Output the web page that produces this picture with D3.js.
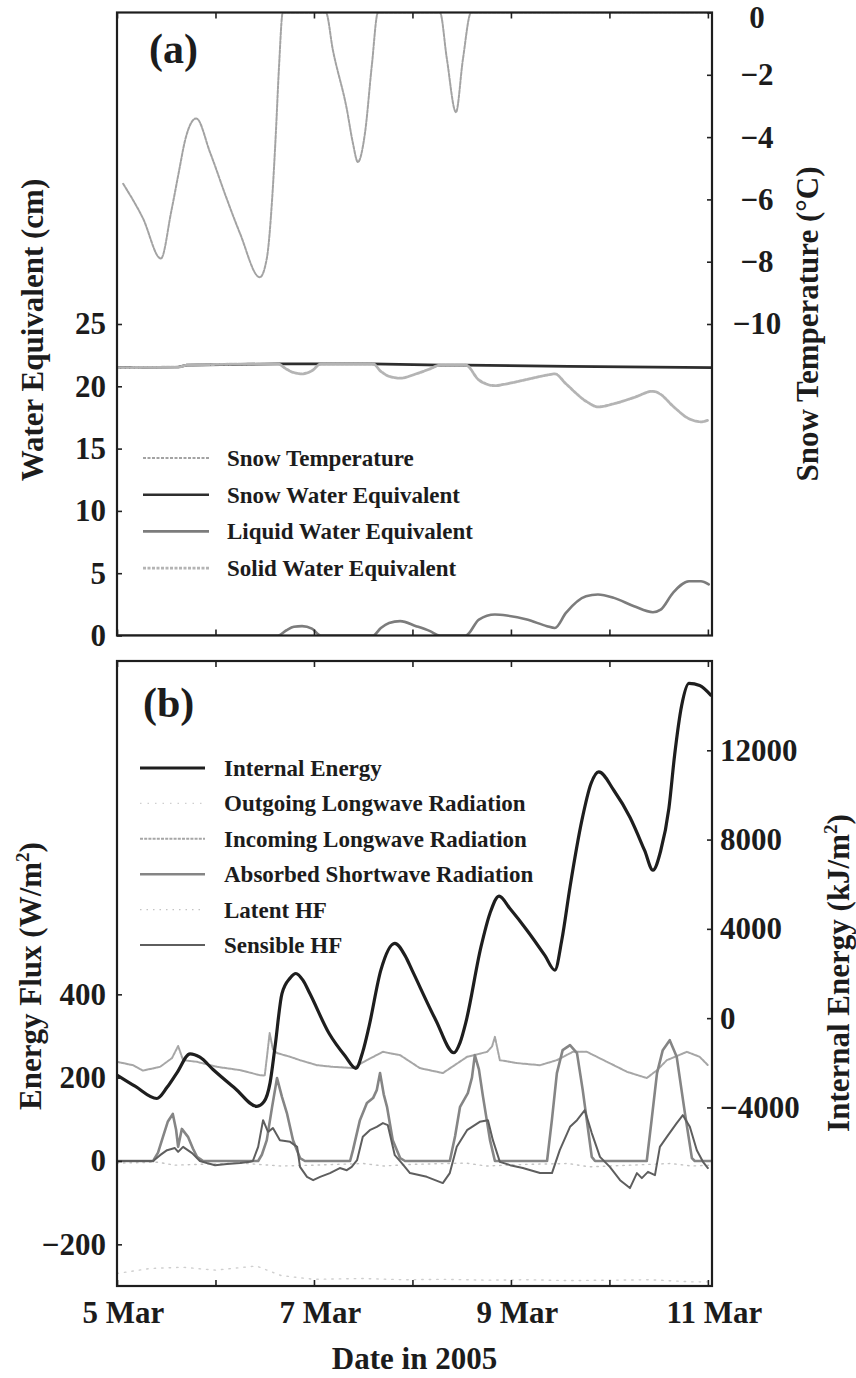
<!DOCTYPE html>
<html><head><meta charset="utf-8">
<script src="https://cdn.jsdelivr.net/npm/d3@7"></script>
<style>
body{margin:0;background:#fff}
text{font-family:"Liberation Serif","Times New Roman",serif;font-weight:bold;fill:#1c1c1c}
</style></head>
<body><svg id="c" width="856" height="1378"></svg>
<script>
// ---------------- DATA (hours since 5 Mar 2005 00:00) ----------------
const tempHours  = [1.5,6.3,10.7,13.2,15.1,16.6,19.3,22.7,26.8,30.0,34.8,36.5,37.8,38.7,39.5,40.4,50.9,52.6,56.0,57.5,58.7,60.4,62.1,63.6,78.7,80.4,82.6,84.3,86.3,145];
const tempValues = [-5.5,-6.6,-7.9,-6.4,-5.1,-4.1,-3.4,-4.5,-6.0,-7.1,-8.5,-7.9,-6.0,-3.9,-1.7,0,0,-1.2,-3.1,-4.2,-4.8,-3.9,-1.7,0,0,-1.5,-3.2,-1.5,0,0];

const sweHours  = [0,15,17,39,50,62,79,85,110,145];
const sweValues = [21.5,21.55,21.7,21.8,21.8,21.8,21.7,21.7,21.6,21.5];

const liquidHours  = [0,39.2,41.2,43.1,45.1,47.5,49.7,62.4,64.3,66.3,69.0,72.9,76.3,78.7,85.0,88.2,92.1,95.0,99.9,104.8,106.7,109.4,114.3,117.2,121.1,126.0,130.6,132.5,135.5,139.4,142.3,144.2];
const liquidValues = [0,0,0.4,0.7,0.75,0.55,0,0,0.6,1.0,1.15,0.75,0.35,0,0,1.28,1.68,1.6,1.28,0.75,0.6,1.82,3.15,3.29,3.02,2.35,1.87,2.08,3.42,4.35,4.35,4.1];

const solidHours  = [0,15,17,39.2,41.2,43.1,45.1,47.5,49.7,62.4,64.3,66.3,69.0,72.9,76.3,78.7,85.0,88.2,92.1,95.0,99.9,104.8,106.7,109.4,114.3,117.2,121.1,126.0,130.6,132.5,135.5,139.4,142.3,144.2];
const solidValues = [21.5,21.55,21.7,21.8,21.4,21.1,21.0,21.25,21.8,21.8,21.2,20.8,20.65,21.0,21.4,21.7,21.7,20.5,20.05,20.2,20.55,20.9,21.0,20.2,18.8,18.35,18.6,19.1,19.6,19.35,18.4,17.4,17.15,17.3];

const ieHours  = [0,4.4,9.7,12.2,14.6,17.8,20.2,23.4,28.8,34.1,35.8,37.3,38.5,40.2,42.2,43.6,45.3,47.0,51.7,55.6,58.2,59.9,61.4,64.3,67.7,70.2,71.9,77.7,82.1,83.6,85.0,88.7,90.9,93.1,95.8,99.9,104.3,106.7,108.4,110.4,113.3,115.5,117.4,121.1,125.0,128.6,130.6,132.5,134.5,135.9,137.6,139.4,142.0,144.7];
const ieValues = [-2550,-3050,-3600,-3100,-2450,-1600,-1750,-2300,-3150,-3950,-3750,-2900,-1300,1100,1800,2000,1700,1100,-690,-1700,-2250,-1500,-390,2150,3350,2800,2150,-90,-1550,-1100,-200,3190,4700,5470,4900,3940,2800,2150,3500,5880,8870,10500,11030,10200,9000,7500,6630,7500,9400,11800,14000,15000,14900,14470];

const outLwHours  = [0,8,16,24,34,40,48,60,70,80,90,100,110,120,130,140,145];
const outLwValues = [-270,-258,-255,-262,-252,-275,-284,-282,-285,-284,-286,-285,-287,-286,-285,-290,-290];

const inLwHours  = [0,3.9,6.3,10.5,13.4,14.9,16.1,19.5,24.4,30.0,34.8,36.0,36.6,37.2,38.0,39.0,42.2,44.6,48.7,52.6,57.5,60.9,64.8,69.0,73.8,79.4,85.3,90.2,91.4,92.1,92.8,93.3,97.5,103.1,107.2,111.1,114.5,119.4,124.3,129.1,131.6,134.0,138.9,142.0,144.0];
const inLwValues = [238,230,217,226,247,276,242,238,226,218,206,205,255,307,268,259,250,242,230,226,223,242,262,254,223,211,250,262,275,298,265,242,235,230,242,262,262,238,214,199,218,242,262,250,230];

const swHours  = [0,8.8,10.0,11.2,12.4,13.6,14.4,14.9,15.8,17.3,18.5,19.5,21.0,34.4,35.3,36.5,37.8,39.0,40.2,41.4,42.9,44.6,45.8,56.8,57.5,59.2,60.9,62.4,63.3,64.1,65.0,65.8,67.2,69.0,70.2,81.1,82.4,83.6,85.5,86.5,87.2,88.2,89.2,90.9,92.1,104.8,106.0,107.2,108.6,110.4,112.1,113.5,115.7,116.5,129.1,130.3,131.6,133.0,134.7,136.4,138.4,140.1,140.8,145];
const swValues = [0,0,20,58,95,113,75,34,77,58,30,10,0,0,15,50,130,199,154,115,50,7,0,0,26,98,139,151,170,211,160,130,50,7,0,0,60,130,163,200,254,220,154,50,0,0,100,211,266,278,259,170,10,0,0,100,211,266,290,250,115,7,0,0];

const latentHours  = [0,10,14,20,30,40,48,60,65,72,85,90,100,110,115,125,135,140,145];
const latentValues = [-5,-3,-10,-8,-5,-12,-10,-6,-12,-8,-5,-12,-8,-6,-14,-10,-6,-12,-10];

const shHours  = [0,8.8,10.5,12.2,14.1,14.9,16.1,18.3,20.2,21.9,23.9,26.8,30.0,32.4,33.1,34.4,35.6,36.8,38.0,39.7,42.2,43.9,44.6,46.3,47.8,49.5,51.9,54.3,56.0,57.2,58.5,59.9,61.6,63.3,64.8,66.0,67.7,69.4,71.4,75.5,79.4,81.1,82.8,85.3,88.4,90.4,91.6,93.3,95.8,98.9,103.1,106.0,107.9,110.4,112.1,114.0,115.7,117.7,120.1,122.6,125.0,126.7,127.9,129.4,131.1,132.3,134.0,136.4,137.9,139.6,141.3,142.8,144.0];
const shValues = [0,0,14,26,31,22,34,19,0,-5,-10,-7,-5,-2,0,34,98,70,79,50,46,34,-14,-38,-46,-38,-29,-17,-22,-14,2,58,74,82,91,86,14,-5,-29,-38,-53,-29,34,74,94,98,50,-2,-10,-17,-29,-29,26,82,98,122,67,10,-14,-46,-65,-29,-41,-26,-34,34,58,91,110,82,26,-2,-17];

const weTicks   = [0,5,10,15,20,25];
const tempTicks = [0,-2,-4,-6,-8,-10];
const fluxTicks = [-200,0,200,400];
const ieTicks   = [-4000,0,4000,8000,12000];
const dateLabels = ["2005-03-05","2005-03-07","2005-03-09","2005-03-11"];

const legendA = ["Snow Temperature","Snow Water Equivalent","Liquid Water Equivalent","Solid Water Equivalent"];
const legendB = ["Internal Energy","Outgoing Longwave Radiation","Incoming Longwave Radiation","Absorbed Shortwave Radiation","Latent HF","Sensible HF"];

// ---------------- LAYOUT ----------------
const START = new Date(2005,2,5,0,0), END = new Date(2005,2,11,1,0);
const toDate = h => new Date(START.getTime() + h*3600e3);
const X0=117, X1=712, A_TOP=12.5, A_BOT=635.5, B_TOP=661, B_BOT=1286;

const svg = d3.select("#c");
const x   = d3.scaleTime().domain([START,END]).range([X0,X1]);
const yWE = d3.scaleLinear().domain([0,50]).range([A_BOT,A_TOP]);
const yT  = d3.scaleLinear().domain([-20,0]).range([A_BOT,A_TOP]);
const yF  = d3.scaleLinear().domain([-300,1200]).range([B_BOT,B_TOP]);
const yE  = d3.scaleLinear().domain([-12000,16000]).range([B_BOT,B_TOP]);

const defs = svg.append("defs");
defs.append("clipPath").attr("id","clipA").append("rect").attr("x",X0).attr("y",A_TOP).attr("width",X1-X0).attr("height",A_BOT-A_TOP);
defs.append("clipPath").attr("id","clipB").append("rect").attr("x",X0).attr("y",B_TOP).attr("width",X1-X0).attr("height",B_BOT-B_TOP);

const gA = svg.append("g").attr("clip-path","url(#clipA)");
const gB = svg.append("g").attr("clip-path","url(#clipB)");

function series(g, hours, vals, y, st, curve){
  const data = hours.map((h,i)=>({t:toDate(h), v:vals[i]}));
  const p = g.append("path").datum(data)
    .attr("fill","none")
    .attr("stroke",st.c).attr("stroke-width",st.w)
    .attr("stroke-linejoin","round").attr("stroke-linecap","round")
    .attr("d", d3.line().x(d=>x(d.t)).y(d=>y(d.v)).curve(curve||d3.curveLinear));
  if(st.d) p.attr("stroke-dasharray",st.d);
  return p;
}

const stA = [
  {c:"#a3a3a3", w:2.0, d:"3,1.5"},   // snow temperature
  {c:"#2e2e2e", w:2.6},              // SWE
  {c:"#7c7c7c", w:2.6},              // liquid
  {c:"#b4b4b4", w:2.8, d:"3,1.5"}    // solid
];
const stB = [
  {c:"#1e1e1e", w:3.2},              // internal energy
  {c:"#cfcfcf", w:1.4, d:"1.5,6"},   // outgoing LW
  {c:"#a6a6a6", w:2.0, d:"3,1.2"},   // incoming LW
  {c:"#858585", w:2.6},              // absorbed SW
  {c:"#c4c4c4", w:1.4, d:"1.5,5"},   // latent
  {c:"#5e5e5e", w:2.0}               // sensible
];

// panel a lines
series(gA, sweHours, sweValues, yWE, stA[1]);
series(gA, liquidHours, liquidValues, yWE, stA[2], d3.curveMonotoneX);
series(gA, solidHours, solidValues, yWE, stA[3], d3.curveMonotoneX);
series(gA, tempHours, tempValues, yT, stA[0], d3.curveMonotoneX);

// panel b lines
series(gB, outLwHours, outLwValues, yF, stB[1]);
series(gB, latentHours, latentValues, yF, stB[4]);
series(gB, inLwHours, inLwValues, yF, stB[2]);
series(gB, swHours, swValues, yF, stB[3]);
series(gB, shHours, shValues, yF, stB[5]);
series(gB, ieHours, ieValues, yE, stB[0], d3.curveMonotoneX);

// ---------------- AXES ----------------
function styleAxis(g){
  g.select(".domain").remove();
  g.selectAll(".tick line").attr("stroke","#222").attr("stroke-width",1.6);
  g.selectAll("text").attr("font-size",31).attr("fill","#1c1c1c")
   .attr("font-family",'"Liberation Serif","Times New Roman",serif').attr("font-weight","bold");
}
const fmt = d3.format("d");
// panel a
svg.append("g").attr("transform",`translate(${X0},0)`)
  .call(d3.axisLeft(yWE).tickValues(weTicks).tickSize(-5).tickPadding(11).tickFormat(fmt)).call(styleAxis);
const raxA = svg.append("g").attr("transform",`translate(${X1},0)`)
  .call(d3.axisRight(yT).tickValues(tempTicks).tickSize(-5).tickPadding(45).tickFormat(fmt)).call(styleAxis);
raxA.selectAll("text").attr("text-anchor","middle");
// keep the top label ("0") inside the page
raxA.selectAll(".tick").filter(d=>d===0).select("text").attr("y",5);
// panel b
svg.append("g").attr("transform",`translate(${X0},0)`)
  .call(d3.axisLeft(yF).tickValues(fluxTicks).tickSize(-5).tickPadding(11).tickFormat(fmt)).call(styleAxis);
svg.append("g").attr("transform",`translate(${X1},0)`)
  .call(d3.axisRight(yE).tickValues(ieTicks).tickSize(-5).tickPadding(8).tickFormat(fmt)).call(styleAxis);

// day ticks (inward) on top & bottom of both panels
const days = d3.timeDay.range(START, END);
[[A_TOP,"top"],[A_BOT,"bottom"],[B_TOP,"top"],[B_BOT,"bottom"]].forEach(([yy,side])=>{
  const ax = side==="top" ? d3.axisTop(x) : d3.axisBottom(x);
  svg.append("g").attr("transform",`translate(0,${yy})`)
    .call(ax.tickValues(days).tickSize(-6).tickFormat("")).call(styleAxis);
});
// date labels
const dl = svg.append("g").attr("transform",`translate(0,${B_BOT})`)
  .call(d3.axisBottom(x).tickValues(dateLabels.map(s=>new Date(s+"T00:00:00"))).tickSize(0).tickPadding(15)
  .tickFormat(d3.timeFormat("%-d Mar"))).call(styleAxis);
dl.selectAll("text").attr("dx",6);

// frames
[[A_TOP,A_BOT],[B_TOP,B_BOT]].forEach(([t,b])=>{
  svg.append("rect").attr("x",X0).attr("y",t).attr("width",X1-X0).attr("height",b-t)
    .attr("fill","none").attr("stroke","#1e1e1e").attr("stroke-width",2.2);
});

// ---------------- TITLES ----------------
function vtitle(xp, yp, parts){
  const t = svg.append("text").attr("transform",`translate(${xp},${yp}) rotate(-90)`)
    .attr("text-anchor","middle").attr("font-size",31);
  parts.forEach(p=>{
    const ts = t.append("tspan").text(p.s);
    if(p.sup) ts.attr("font-size",19).attr("dy",-12);
    if(p.after) ts.attr("dy",12);
  });
}
vtitle(43, 330, [{s:"Water Equivalent (cm)"}]);
vtitle(818, 324, [{s:"Snow Temperature (°C)"}]);
vtitle(41, 976, [{s:"Energy Flux (W/m"},{s:"2",sup:true},{s:")",after:true}]);
vtitle(849, 973, [{s:"Internal Energy (kJ/m"},{s:"2",sup:true},{s:")",after:true}]);

svg.append("text").attr("x",(X0+X1)/2).attr("y",1369).attr("text-anchor","middle").attr("font-size",31).text("Date in 2005");
svg.append("text").attr("x",149).attr("y",63).attr("font-size",42).text("(a)");
svg.append("text").attr("x",143).attr("y",717).attr("font-size",42).text("(b)");

// ---------------- LEGENDS ----------------
function legend(names, styles, x1, x2, tx, y0, dy){
  names.forEach((n,i)=>{
    const yy = y0 + i*dy;
    const st = styles[i];
    const l = svg.append("line").attr("x1",x1).attr("x2",x2).attr("y1",yy).attr("y2",yy)
      .attr("stroke",st.c).attr("stroke-width",st.w);
    if(st.d) l.attr("stroke-dasharray",st.d);
    svg.append("text").attr("x",tx).attr("y",yy+8).attr("font-size",23).text(n);
  });
}
legend(legendA, stA, 143, 209, 227, 458, 36.7);
legend(legendB, stB, 140, 205, 224, 768, 35.4);
</script>
</body></html>
